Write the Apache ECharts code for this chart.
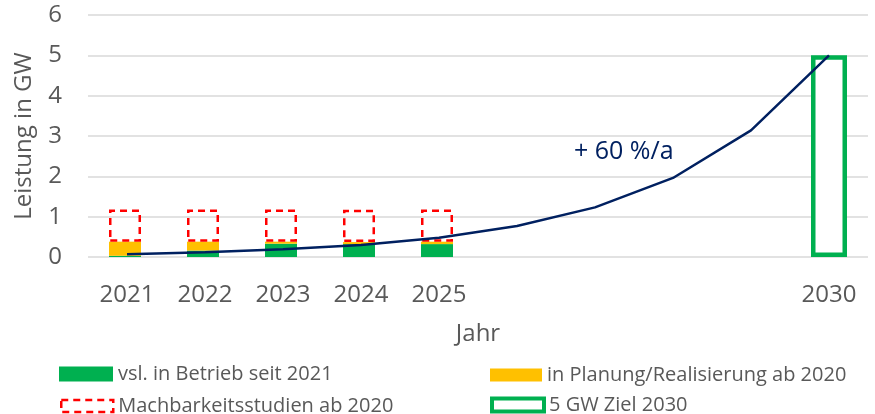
<!DOCTYPE html>
<html>
<head>
<meta charset="utf-8">
<script src="https://cdn.jsdelivr.net/npm/echarts@6/dist/echarts.min.js"></script>
<style>html,body{margin:0;padding:0;background:#fff;}#c{width:875px;height:414px;}</style>
</head>
<body>
<div id="c"></div>
<script>
const years = ['2021','2022','2023','2024','2025','2026','2027','2028','2029','2030'];
const shownLabels = ['2021','2022','2023','2024','2025','2030'];
const inBetrieb = [0.03, 0.16, 0.33, 0.32, 0.32, '-', '-', '-', '-', '-'];
const inPlanung = [0.35, 0.22, 0.05, 0.05, 0.06, '-', '-', '-', '-', '-'];
const machbarkeit = [0.80, 0.80, 0.80, 0.80, 0.80, '-', '-', '-', '-', '-'];
const ziel = ['-', '-', '-', '-', '-', '-', '-', '-', '-', 5];
const trend = [0.07, 0.12, 0.19, 0.30, 0.48, 0.77, 1.23, 1.96, 3.14, 5.0];
const annotation = '+ 60 %/a';

const FONT = 'Open Sans';
const GRAY = '#595959';
const chart = echarts.init(document.getElementById('c'), null, {renderer: 'canvas'});

function legendAt(name, left, top, w, h, style) {
  return {
    data: [name], left: left, top: top, itemWidth: w, itemHeight: h,
    itemStyle: style, icon: 'rect', selectedMode: false,
    textStyle: {fontFamily: FONT, fontSize: 20, color: GRAY}, padding: 0
  };
}

chart.setOption({
  animation: false,
  textStyle: {fontFamily: FONT},
  grid: {left: 88, right: 7, top: 15, bottom: 157, containLabel: false},
  legend: [
    legendAt('vsl. in Betrieb seit 2021', 59, 364, 54, 15, {color: '#00B050'}),
    legendAt('in Planung/Realisierung ab 2020', 490, 365, 52, 13, {color: '#FFC000'}),
    legendAt('Machbarkeitsstudien ab 2020', 60, 396, 52, 12, {color: 'transparent', borderColor: '#FF0000', borderWidth: 2.5, borderType: [7, 5]}),
    legendAt('5 GW Ziel 2030', 490, 395, 52, 13, {color: '#FFFFFF', borderColor: '#00B050', borderWidth: 4})
  ],
  xAxis: {
    type: 'category', data: years,
    name: 'Jahr', nameLocation: 'middle', nameGap: 65,
    nameTextStyle: {fontFamily: FONT, fontSize: 24, color: GRAY},
    axisLine: {show: false}, axisTick: {show: false},
    axisLabel: {
      interval: 0, margin: 26, fontFamily: FONT, fontSize: 24, color: GRAY,
      formatter: v => shownLabels.indexOf(v) >= 0 ? v : ''
    }
  },
  yAxis: {
    type: 'value', min: 0, max: 6, interval: 1,
    name: 'Leistung in GW', nameLocation: 'middle', nameGap: 52,
    nameTextStyle: {fontFamily: FONT, fontSize: 24, color: GRAY},
    axisLine: {show: false}, axisTick: {show: false},
    axisLabel: {margin: 26, fontFamily: FONT, fontSize: 24, color: GRAY},
    splitLine: {lineStyle: {color: '#D9D9D9', width: 1.5}}
  },
  graphic: [{
    type: 'text', left: 574, top: 139, z: 100,
    style: {text: annotation, fontFamily: FONT, fontSize: 25, fill: '#002060'}
  }],
  series: [
    {name: 'vsl. in Betrieb seit 2021', type: 'bar', stack: 'a', data: inBetrieb, barWidth: 32, barGap: '-100%',
     itemStyle: {color: '#00B050'}},
    {name: 'in Planung/Realisierung ab 2020', type: 'bar', stack: 'a', data: inPlanung, barWidth: 32, barGap: '-100%',
     itemStyle: {color: '#FFC000'}},
    {name: 'Machbarkeitsstudien ab 2020', type: 'bar', stack: 'a', data: machbarkeit, barWidth: 32, barGap: '-100%',
     itemStyle: {color: 'transparent', borderColor: '#FF0000', borderWidth: 2.5, borderType: [7, 5]}},
    {name: '5 GW Ziel 2030', type: 'bar', stack: 'b', data: ziel, barWidth: 36, barGap: '-100%',
     itemStyle: {color: '#FFFFFF', borderColor: '#00B050', borderWidth: 4.5}},
    {name: 'trend', type: 'line', data: trend, symbol: 'none', z: 10,
     lineStyle: {color: '#002060', width: 2.5}}
  ]
});
</script>
</body>
</html>
